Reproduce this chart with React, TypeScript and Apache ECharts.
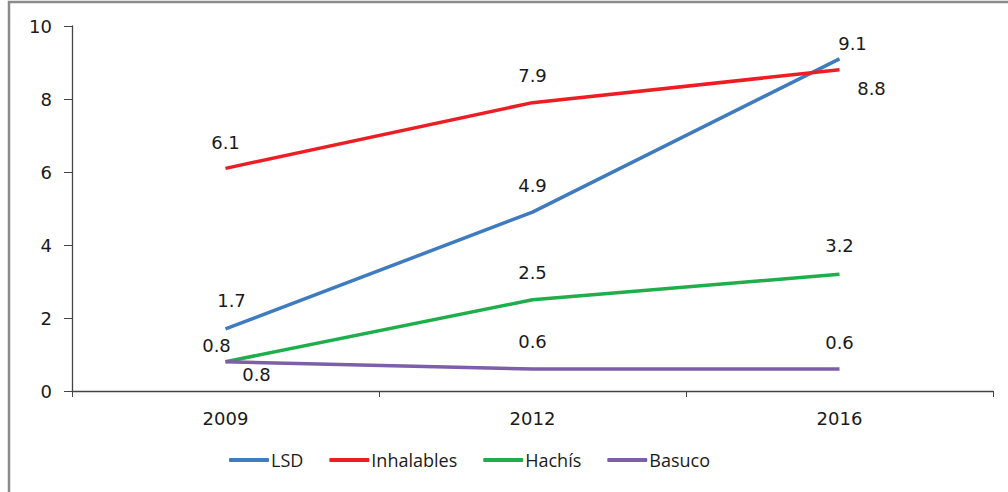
import React, { useEffect, useRef } from "react";
import * as echarts from "echarts";

const years = ["2009", "2012", "2016"];
const lsd = [1.7, 4.9, 9.1];
const inhalables = [6.1, 7.9, 8.8];
const hachis = [0.8, 2.5, 3.2];
const basuco = [0.8, 0.6, 0.6];
const yTicks = { min: 0, max: 10, interval: 2 };

const numFont = "DejaVu Sans";
const txtFont = "Open Sans";

function withLabels(values: number[], offsets: number[][]) {
  return values.map((v, i) => ({
    value: v,
    label: { offset: offsets[i] },
  }));
}

export default function App() {
  const ref = useRef<HTMLDivElement>(null);
  useEffect(() => {
    const chart = echarts.init(ref.current!, null, { renderer: "svg" });
    const label = {
      show: true,
      position: "inside",
      fontFamily: numFont,
      fontSize: 18,
      color: "#1a1a1a",
    };
    const mk = (name: string, color: string, values: number[], offsets: number[][]) => ({
      name,
      type: "line",
      data: withLabels(values, offsets),
      symbol: "circle",
      symbolSize: 0,
      showSymbol: true,
      lineStyle: { color, width: 3.5 },
      itemStyle: { color },
      label,
    });
    chart.setOption({
      animation: false,
      backgroundColor: "#fff",
      graphic: [
        {
          type: "rect",
          shape: { x: 9, y: 2, width: 1010, height: 520 },
          style: { fill: "none", stroke: "#8a8a8a", lineWidth: 2.5 },
          silent: true,
        },
      ],
      grid: { left: 72, right: 15, top: 26, bottom: 101 },
      legend: {
        bottom: 18,
        left: 224,
        itemWidth: 40,
        itemHeight: 4,
        itemGap: 26,
        icon: "roundRect",
        textStyle: { fontFamily: txtFont, fontSize: 18, color: "#1a1a1a", padding: [0, 0, 0, -3] },
        data: ["LSD", "Inhalables", "Hachís", "Basuco"],
      },
      xAxis: {
        type: "category",
        data: years,
        boundaryGap: true,
        axisLine: { lineStyle: { color: "#444", width: 1.3 } },
        axisTick: { show: true, length: 6, lineStyle: { color: "#444" } },
        axisLabel: { fontFamily: numFont, fontSize: 18, color: "#1a1a1a", margin: 18 },
      },
      yAxis: {
        type: "value",
        min: yTicks.min,
        max: yTicks.max,
        interval: yTicks.interval,
        axisLine: { show: true, lineStyle: { color: "#444", width: 1.3 } },
        axisTick: { show: true, length: 8, lineStyle: { color: "#444" } },
        splitLine: { show: false },
        axisLabel: { fontFamily: numFont, fontSize: 18, color: "#1a1a1a", margin: 20 },
      },
      series: [
        mk("LSD", "#3f7cbf", lsd, [[6, -28], [0, -27], [13, -15]]),
        mk("Inhalables", "#ee1d24", inhalables, [[0, -26], [0, -27], [32, 19]]),
        mk("Hachís", "#1fae4b", hachis, [[-9, -16], [0, -27], [0, -29]]),
        mk("Basuco", "#7d5ea8", basuco, [[31, 13], [0, -28], [0, -27]]),
      ],
    });
    return () => chart.dispose();
  }, []);
  return (
    <div
      ref={ref}
      style={{ position: "absolute", left: 0, top: 0, width: 1008, height: 492 }}
    />
  );
}
